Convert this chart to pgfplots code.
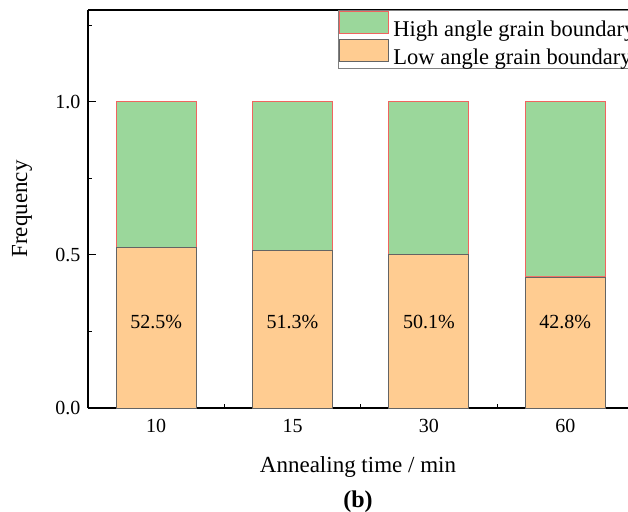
\documentclass[border=0pt]{standalone}
\usepackage{fontspec}
\setmainfont{Liberation Serif}
\usepackage{pgfplots}
\pgfplotsset{compat=1.18}
\usetikzlibrary{calc}
\definecolor{hagb}{RGB}{155,215,155}
\definecolor{lagb}{RGB}{255,204,145}
\definecolor{redge}{RGB}{240,100,95}
\definecolor{gedge}{RGB}{100,100,100}
\begin{document}
\begin{tikzpicture}
\begin{axis}[name=ax, scale only axis, width=540bp, height=398bp,
  xmin=-0.5, xmax=3.46, ymin=0, ymax=1.3,
  ybar stacked, bar width=80bp,
  axis x line*=box, axis y line*=left,
  xtick={0,1,2,3}, xticklabels={10,15,30,60},
  minor xtick={0.5,1.5,2.5},
  ytick={0,0.5,1}, minor ytick={0.25,0.75,1.25},
  xtick pos=left, ytick pos=left,
  /pgf/number format/assume math mode=true,
  tick align=inside, major tick length=8bp, minor tick length=4bp,
  tick style={black, line width=1bp},
  axis line style={black, line width=1.3bp},
  ticklabel style={font=\fontsize{20bp}{24bp}\selectfont},
  xticklabel style={yshift=-8bp},
  yticklabel style={xshift=-4bp, /pgf/number format/fixed, /pgf/number format/fixed zerofill, /pgf/number format/precision=1},
  xlabel={Annealing time / min}, ylabel={Frequency},
  label style={font=\fontsize{23bp}{27bp}\selectfont},
  xlabel style={at={(axis description cs:0.5,-0.148)}, anchor=center},
  ylabel style={at={(axis description cs:-0.122,0.5)}, anchor=center},
  legend style={at={(0.463,1)}, anchor=north west, draw=gray, line width=0.9bp,
    font=\fontsize{22.5bp}{26bp}\selectfont, inner sep=1bp, row sep=0bp, column sep=2bp,
    legend cell align=left},
  legend image code/.code={\draw[#1, line width=1bp] (0bp,-5bp) rectangle (49bp,17bp);},
  reverse legend,
]
\addplot[fill=lagb, draw=gedge, line width=0.9bp] coordinates {(0,0.525) (1,0.513) (2,0.501) (3,0.428)};
\addlegendentry{Low angle grain boundary}
\addplot[fill=hagb, draw=redge, line width=1.1bp] coordinates {(0,0.475) (1,0.487) (2,0.499) (3,0.572)};
\addlegendentry{High angle grain boundary}
\coordinate (l0) at (axis cs:0,0.28);
\coordinate (l1) at (axis cs:1,0.28);
\coordinate (l2) at (axis cs:2,0.28);
\coordinate (l3) at (axis cs:3,0.28);
\end{axis}
\foreach \p/\t in {l0/52.5, l1/51.3, l2/50.1, l3/42.8}
  \node[font=\fontsize{20bp}{24bp}\selectfont] at (\p) {\t\%};
\node[font=\bfseries\fontsize{24bp}{28bp}\selectfont] at ($(ax.south west)+(270bp,-94bp)$) {(b)};
\pgfresetboundingbox
\path[use as bounding box] ($(ax.south west)+(-88bp,-104bp)$) rectangle ($(ax.north east)+(0bp,10bp)$);
\end{tikzpicture}
\end{document}
